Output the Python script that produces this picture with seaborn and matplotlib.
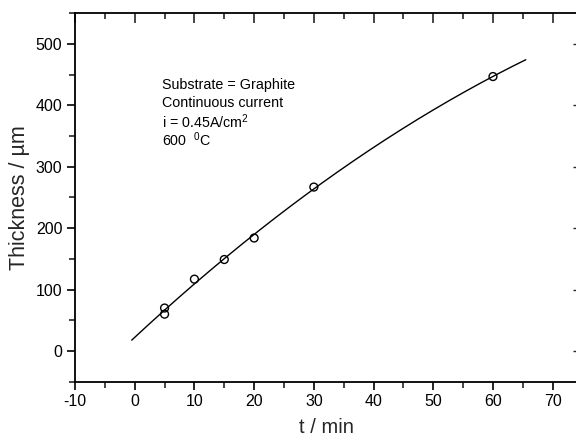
import numpy as np
import pandas as pd
import matplotlib
matplotlib.use("Agg")
import matplotlib.pyplot as plt
from matplotlib.ticker import MultipleLocator
import seaborn as sns

# Measured deposit thickness vs. electrolysis time
time_min = [5, 5, 10, 15, 20, 30, 60]
thickness_um = [70, 60, 117, 149, 184, 267, 447]

# Range over which the fitted curve is drawn
fit_start, fit_end = -0.5, 65.5

sns.set_theme(style="ticks")
plt.rcParams["font.family"] = ["Liberation Sans", "DejaVu Sans"]
plt.rcParams["mathtext.fontset"] = "custom"
plt.rcParams["mathtext.rm"] = "Liberation Sans"
plt.rcParams["mathtext.default"] = "regular"
plt.rcParams["axes.unicode_minus"] = False

df = pd.DataFrame({"t": time_min, "thk": thickness_um})

# Second-order polynomial fit through the measured points
coef = np.polyfit(df["t"], df["thk"], 2)
t_fit = np.linspace(fit_start, fit_end, 200)
fit_df = pd.DataFrame({"t": t_fit, "thk": np.polyval(coef, t_fit)})

fig = plt.figure(figsize=(5.76, 4.37), dpi=100)
ax = fig.add_axes([75 / 576, 1 - 381.7 / 437, 502 / 576, (381.7 - 13.3) / 437])

sns.lineplot(data=fit_df, x="t", y="thk", ax=ax, color="black", linewidth=1.0)
sns.scatterplot(data=df, x="t", y="thk", ax=ax, marker="o", s=32,
                facecolor="none", edgecolor="black", linewidth=1.0, zorder=3)

ax.set_xlim(-10, 74.07)
ax.set_ylim(-50, 550)
ax.xaxis.set_major_locator(MultipleLocator(10))
ax.xaxis.set_minor_locator(MultipleLocator(5))
ax.yaxis.set_major_locator(MultipleLocator(100))
ax.yaxis.set_minor_locator(MultipleLocator(50))

for side in ["left", "bottom", "top"]:
    ax.spines[side].set_visible(True)
    ax.spines[side].set_linewidth(1.3)
    ax.spines[side].set_color("black")
ax.spines["right"].set_visible(False)

ax.tick_params(axis="both", which="major", direction="out", length=6, width=1.2,
               labelsize=11.5, colors="black", pad=3)
ax.tick_params(axis="both", which="minor", direction="out", length=4, width=1.2)
ax.tick_params(top=False, right=False)

# Inward ticks along the top and right edges
top = ax.secondary_xaxis("top")
top.xaxis.set_major_locator(MultipleLocator(10))
top.xaxis.set_minor_locator(MultipleLocator(5))
top.tick_params(which="major", direction="in", length=7, width=1.2, labeltop=False)
top.tick_params(which="minor", direction="in", length=4, width=1.2)
top.spines["top"].set_visible(False)

right = ax.secondary_yaxis("right")
right.yaxis.set_major_locator(MultipleLocator(100))
right.yaxis.set_minor_locator(plt.NullLocator())
right.tick_params(which="major", direction="in", length=3, width=1.0, labelright=False)
right.spines["right"].set_visible(False)

ax.set_xlabel("t / min", fontsize=14.5, labelpad=6)
ax.set_ylabel("Thickness / µm", fontsize=15.5, labelpad=4)

info = ["Substrate = Graphite", "Continuous current",
        "i = 0.45A/cm$^{2}$", "600  $^{0}$C"]
for k, line in enumerate(info):
    ax.text(4.5, 434 - 30 * k, line, fontsize=10.3, va="center", ha="left",
            color="black")

fig.savefig("out.png", dpi=100)
